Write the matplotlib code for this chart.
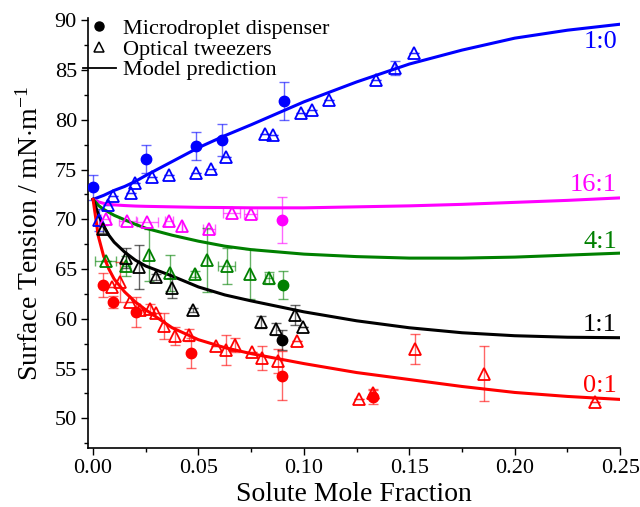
import matplotlib
matplotlib.use("Agg")
import matplotlib.pyplot as plt
from matplotlib.ticker import MultipleLocator
from matplotlib.lines import Line2D

plt.rcParams['font.family'] = ['Liberation Serif', 'DejaVu Serif']
plt.rcParams['mathtext.fontset'] = 'custom'
plt.rcParams['mathtext.rm'] = 'Liberation Serif'
plt.rcParams['mathtext.it'] = 'Liberation Serif:italic'

# ---------------- data ----------------
model_x = [0, 0.0025, 0.005, 0.0075, 0.01, 0.015, 0.02, 0.025, 0.0375, 0.05, 0.0625, 0.075, 0.1,
           0.125, 0.15, 0.175, 0.2, 0.225, 0.25]
model_10 = [72.0, 72.2, 72.4, 72.65, 72.9, 73.3, 73.8, 74.4, 75.8, 77.2, 78.4, 79.5, 81.8,
            83.8, 85.6, 87.0, 88.2, 89.0, 89.6]
model_161 = [72.0, 71.75, 71.6, 71.5, 71.45, 71.38, 71.33, 71.3, 71.25, 71.2, 71.18, 71.15, 71.15,
             71.25, 71.35, 71.5, 71.7, 71.9, 72.15]
model_41 = [72.0, 71.4, 71.0, 70.7, 70.4, 69.95, 69.5, 69.1, 68.4, 67.8, 67.3, 66.95, 66.5,
            66.25, 66.1, 66.1, 66.2, 66.4, 66.6]
model_11 = [72.0, 70.5, 69.3, 68.4, 67.7, 66.7, 65.9, 65.3, 64.3, 63.2, 62.4, 61.8, 60.7,
            59.8, 59.1, 58.6, 58.3, 58.15, 58.1]
model_01 = [72.0, 68.3, 66.3, 65.0, 64.0, 62.7, 61.7, 60.9, 59.1, 57.9, 57.1, 56.5, 55.5,
            54.6, 53.9, 53.2, 52.6, 52.2, 51.9]

# Microdroplet dispenser (circles)
md_10_x = [0.000, 0.025, 0.049, 0.061, 0.0905]
md_10_y = [73.2, 76.1, 77.4, 78.0, 81.9]
md_10_e = [1.3, 1.4, 1.4, 1.6, 1.9]
md_161_x = [0.0895]
md_161_y = [69.9]
md_161_e = [2.3]
md_41_x = [0.090]
md_41_y = [63.4]
md_41_e = [1.4]
md_11_x = [0.0895]
md_11_y = [57.9]
md_11_e = [1.0]
md_01_x = [0.0049, 0.0096, 0.0204, 0.0465, 0.0898, 0.1327]
md_01_y = [63.4, 61.7, 60.7, 56.6, 54.3, 52.1]
md_01_e = [1.2, 0.6, 1.5, 1.5, 2.5, 0.7]

# Optical tweezers (triangles)
ot_10_x = [0.003, 0.007, 0.0093, 0.018, 0.020, 0.028, 0.036, 0.049, 0.056, 0.063, 0.0816, 0.0855,
           0.0987, 0.1037, 0.112, 0.134, 0.143, 0.152]
ot_10_y = [69.9, 71.4, 72.3, 72.6, 73.6, 74.2, 74.5, 74.7, 75.1, 76.3, 78.6, 78.5,
           80.7, 81.0, 82.0, 84.0, 85.2, 86.7]
ot_10_e = [1.1, 0, 0, 0, 0, 0, 0, 0, 0, 0, 0, 0, 0, 0, 0, 0, 0.7, 0]
ot_161_x = [0.006, 0.0163, 0.0258, 0.036, 0.0424, 0.055, 0.0658, 0.0748]
ot_161_y = [70.0, 69.8, 69.7, 69.8, 69.3, 69.0, 70.6, 70.5]
ot_161_xe = [0.002, 0.004, 0.005, 0.002, 0, 0.003, 0.004, 0.003]
ot_41_x = [0.006, 0.0155, 0.0267, 0.0365, 0.0484, 0.054, 0.0634, 0.0745, 0.0835]
ot_41_y = [65.8, 65.3, 66.4, 64.6, 64.5, 65.9, 65.3, 64.5, 64.1]
ot_41_e = [0, 1.0, 2.6, 1.8, 0.3, 3.2, 1.8, 2.5, 0.6]
ot_41_xe = [0.005, 0.002, 0, 0, 0, 0, 0.004, 0, 0.002]
ot_11_x = [0.0049, 0.0155, 0.0218, 0.0297, 0.0373, 0.0476, 0.0795, 0.0868, 0.096, 0.0998]
ot_11_y = [69.0, 66.1, 65.2, 64.2, 63.1, 60.9, 59.7, 59.0, 60.4, 59.2]
ot_11_e = [0.4, 1.0, 2.2, 0.3, 1.0, 0.2, 0.6, 0.6, 1.0, 0]
ot_01_x = [0.0089, 0.0128, 0.0176, 0.0223, 0.027, 0.030, 0.0338, 0.0389, 0.0457, 0.0583, 0.0631,
           0.0674, 0.0756, 0.0803, 0.0879, 0.0966, 0.1259, 0.133, 0.1528, 0.1855, 0.238]
ot_01_y = [63.2, 63.7, 61.7, 60.9, 61.0, 60.6, 59.25, 58.3, 58.35, 57.3, 56.9,
           57.4, 56.7, 56.1, 55.8, 57.8, 51.9, 52.5, 57.0, 54.5, 51.6]
ot_01_e = [0, 2.0, 0, 0, 0.5, 0, 1.3, 0.9, 0.6, 0, 1.5,
           0.7, 0, 1.2, 1.2, 0, 0, 0.4, 1.5, 2.8, 0]

labels = ["1:0", "16:1", "4:1", "1:1", "0:1"]
label_y = [87.8, 73.4, 67.7, 59.35, 53.2]
colors = ["#0000ff", "#ff00ff", "#008000", "#000000", "#ff0000"]

# ---------------- plot ----------------
fig = plt.figure(figsize=(6.4, 5.07), dpi=100)
ax = fig.add_axes([0.1375, 0.116, 0.8315, 0.848])

models = [model_10, model_161, model_41, model_11, model_01]
for m, c in zip(models, colors):
    ax.plot(model_x, m, color=c, lw=2.2, zorder=3, solid_joinstyle='round')

def tri(x, y, c, yerr=None, xerr=None):
    ax.errorbar(x, y, yerr=yerr, xerr=xerr, fmt='none', ecolor=c, elinewidth=1.0,
                capsize=3.5, capthick=1.0, alpha=0.6, zorder=2)
    ax.plot(x, y, linestyle='none', marker='^', markersize=8.5, markerfacecolor='none',
            markeredgecolor=c, markeredgewidth=1.3, zorder=4)

def dot(x, y, c, yerr):
    ax.errorbar(x, y, yerr=yerr, fmt='none', ecolor=c, elinewidth=1.0,
                capsize=3.5, capthick=1.0, alpha=0.6, zorder=2)
    ax.plot(x, y, linestyle='none', marker='o', markersize=7.5, color=c, zorder=5)

tri(ot_10_x, ot_10_y, colors[0], yerr=ot_10_e)
tri(ot_161_x, ot_161_y, colors[1], xerr=ot_161_xe)
tri(ot_41_x, ot_41_y, colors[2], yerr=ot_41_e, xerr=ot_41_xe)
tri(ot_11_x, ot_11_y, colors[3], yerr=ot_11_e)
tri(ot_01_x, ot_01_y, colors[4], yerr=ot_01_e)

dot(md_10_x, md_10_y, colors[0], md_10_e)
dot(md_161_x, md_161_y, colors[1], md_161_e)
dot(md_41_x, md_41_y, colors[2], md_41_e)
dot(md_11_x, md_11_y, colors[3], md_11_e)
dot(md_01_x, md_01_y, colors[4], md_01_e)

for lab, ly, c in zip(labels, label_y, colors):
    ax.text(0.2485, ly, lab, color=c, fontsize=19, ha='right', va='center')

ax.set_xlim(-0.0024, 0.25)
ax.set_ylim(47, 90.2)
ax.xaxis.set_major_locator(MultipleLocator(0.05))
ax.xaxis.set_minor_locator(MultipleLocator(0.025))
ax.yaxis.set_major_locator(MultipleLocator(5))
ax.yaxis.set_minor_locator(MultipleLocator(2.5))
ax.set_xticks([0, 0.05, 0.10, 0.15, 0.20, 0.25])
ax.set_xticklabels(["0.00", "0.05", "0.10", "0.15", "0.20", "0.25"])
ax.tick_params(which='major', direction='out', length=5, width=1.0, labelsize=16, pad=3)
ax.tick_params(which='minor', direction='out', length=3, width=1.0)
for s in ['top', 'right']:
    ax.spines[s].set_visible(False)
for s in ['left', 'bottom']:
    ax.spines[s].set_linewidth(1.2)

ax.set_xlabel("Solute Mole Fraction", fontsize=20, labelpad=3)
ax.set_ylabel(r"Surface Tension / mN$\cdot$m$^{\mathregular{-1}}$", fontsize=20, labelpad=8)

handles = [
    Line2D([], [], linestyle='none', marker='o', color='black', markersize=6.5),
    Line2D([], [], linestyle='none', marker='^', markerfacecolor='none',
           markeredgecolor='black', markersize=7.5, markeredgewidth=1.1),
    Line2D([], [], color='black', lw=1.3),
]
ax.legend(handles, ["Microdroplet dispenser", "Optical tweezers", "Model prediction"],
          loc='upper left', bbox_to_anchor=(-0.035, 1.03), frameon=False, fontsize=16,
          handlelength=1.5, handletextpad=0.3, labelspacing=0.0, borderaxespad=0.2)

fig.savefig("out.png", dpi=100)
